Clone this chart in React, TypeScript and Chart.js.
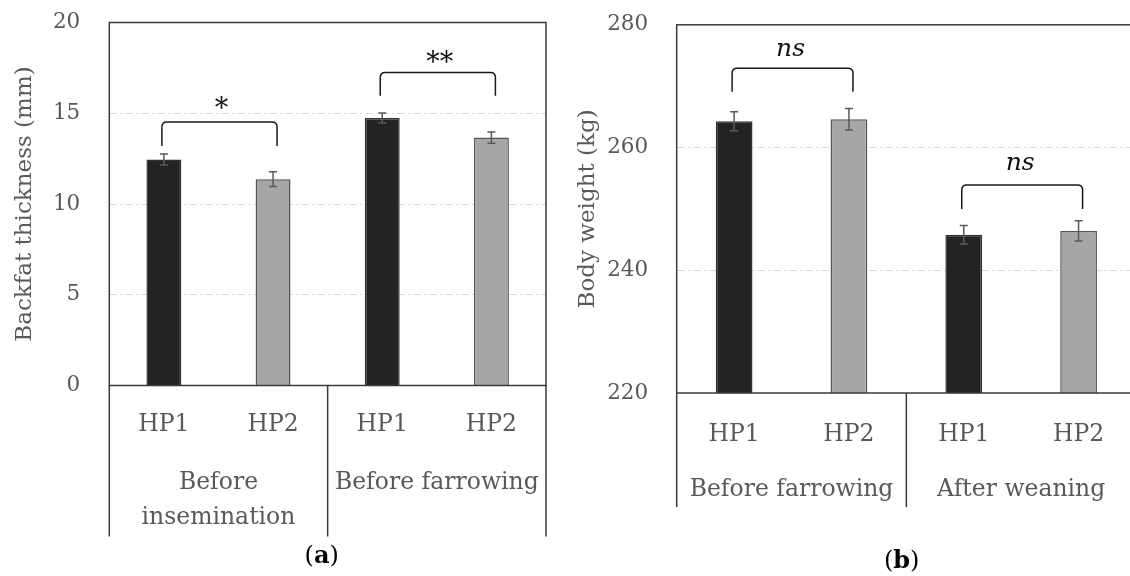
import React, { useEffect, useRef } from 'react';
import { Chart, registerables } from 'chart.js';

Chart.register(...registerables);

const FONT = "'DejaVu Serif', serif";
const TEXT = '#595959';

// ---------- Panel (a): backfat thickness ----------
const backfatCategories = ['HP1', 'HP2', 'HP1', 'HP2'];
const backfatGroups = ['Before\ninsemination', 'Before farrowing'];
const backfatMeans = [12.45, 11.37, 14.74, 13.66];
const backfatErrors = [0.3, 0.4, 0.28, 0.31];
const backfatTicks = [0, 5, 10, 15, 20];
const backfatPairs = [[0, 1], [2, 3]];
const backfatBracketTop = [14.52, 17.25];
const backfatBracketLeg = [13.19, 15.97];
const backfatSig = ['*', '**'];
const backfatSigY = [15.57, 18.1];

// ---------- Panel (b): body weight ----------
const weightCategories = ['HP1', 'HP2', 'HP1', 'HP2'];
const weightGroups = ['Before farrowing', 'After weaning'];
const weightMeans = [264.3, 264.6, 245.8, 246.4];
const weightErrors = [1.55, 1.75, 1.5, 1.65];
const weightTicks = [220, 240, 260, 280];
const weightPairs = [[0, 1], [2, 3]];
const weightBracketTop = [272.9, 253.9];
const weightBracketLeg = [269.1, 250.0];
const weightSig = ['ns', 'ns'];
const weightSigY = [275.9, 257.4];

type Panel = {
  left: number;
  width: number;
  padTop: number;
  padRight: number;
  yWidth: number;
  xHeight: number;
  tickPad: number;
  titlePad: number;
  catPad: number;
  groupOffset: number;
  groupLineGap: number;
  sepDepth: number;
  captionX: number;
  captionY: number;
  caption: string;
  title: string;
  categories: string[];
  groups: string[];
  means: number[];
  errors: number[];
  ticks: number[];
  pairs: number[][];
  bracketTop: number[];
  bracketLeg: number[];
  sig: string[];
  sigY: number[];
  sigItalic: boolean;
};

const panels: Panel[] = [
  {
    left: 0,
    width: 565,
    padTop: 22.5,
    padRight: 19,
    yWidth: 109.3,
    xHeight: 190.5,
    tickPad: 29,
    titlePad: 11,
    catPad: 25,
    groupOffset: 97,
    groupLineGap: 35,
    sepDepth: 151,
    captionX: 321.7,
    captionY: 557,
    caption: 'a',
    title: 'Backfat thickness (mm)',
    categories: backfatCategories,
    groups: backfatGroups,
    means: backfatMeans,
    errors: backfatErrors,
    ticks: backfatTicks,
    pairs: backfatPairs,
    bracketTop: backfatBracketTop,
    bracketLeg: backfatBracketLeg,
    sig: backfatSig,
    sigY: backfatSigY,
    sigItalic: false,
  },
  {
    left: 565,
    width: 580,
    padTop: 24.8,
    padRight: 9,
    yWidth: 111.7,
    xHeight: 183,
    tickPad: 28.5,
    titlePad: 9.5,
    catPad: 27.5,
    groupOffset: 97,
    groupLineGap: 35,
    sepDepth: 114,
    captionX: 901.7 - 565,
    captionY: 562,
    caption: 'b',
    title: 'Body weight (kg)',
    categories: weightCategories,
    groups: weightGroups,
    means: weightMeans,
    errors: weightErrors,
    ticks: weightTicks,
    pairs: weightPairs,
    bracketTop: weightBracketTop,
    bracketLeg: weightBracketLeg,
    sig: weightSig,
    sigY: weightSigY,
    sigItalic: true,
  },
];

function makeDecor(p: Panel) {
  return {
    id: 'decor' + p.caption,
    afterDatasetsDraw(chart: any) {
      const ctx = chart.ctx;
      const y = chart.scales.y;
      const meta = chart.getDatasetMeta(0);
      ctx.save();
      ctx.strokeStyle = '#5a5a5a';
      ctx.lineWidth = 1.5;
      meta.data.forEach((bar: any, i: number) => {
        const x = bar.x;
        const yHi = y.getPixelForValue(p.means[i] + p.errors[i]);
        const yLo = y.getPixelForValue(p.means[i] - p.errors[i]);
        const cap = 4;
        ctx.beginPath();
        ctx.moveTo(x, yHi);
        ctx.lineTo(x, yLo);
        ctx.moveTo(x - cap, yHi);
        ctx.lineTo(x + cap, yHi);
        ctx.moveTo(x - cap, yLo);
        ctx.lineTo(x + cap, yLo);
        ctx.stroke();
      });
      ctx.restore();
    },
    afterDraw(chart: any) {
      const ctx = chart.ctx;
      const area = chart.chartArea;
      const xs = chart.scales.x;
      const ys = chart.scales.y;
      ctx.save();
      // frame
      ctx.strokeStyle = '#3a3a3a';
      ctx.lineWidth = 1.5;
      ctx.strokeRect(area.left, area.top, area.right - area.left, area.bottom - area.top);
      // group separators
      const step = xs.getPixelForValue(1) - xs.getPixelForValue(0);
      const edges = [
        xs.getPixelForValue(0) - step / 2,
        xs.getPixelForValue(1) + step / 2,
        xs.getPixelForValue(3) + step / 2,
      ];
      ctx.beginPath();
      edges.forEach((ex) => {
        ctx.moveTo(ex, area.bottom);
        ctx.lineTo(ex, area.bottom + p.sepDepth);
      });
      ctx.stroke();
      // group labels
      ctx.fillStyle = TEXT;
      ctx.font = `23.5px ${FONT}`;
      ctx.textAlign = 'center';
      ctx.textBaseline = 'middle';
      p.groups.forEach((g, gi) => {
        const cx = (xs.getPixelForValue(gi * 2) + xs.getPixelForValue(gi * 2 + 1)) / 2;
        g.split('\n').forEach((line, li) => {
          ctx.fillText(line, cx, area.bottom + p.groupOffset + li * p.groupLineGap);
        });
      });
      // brackets
      ctx.strokeStyle = '#1a1a1a';
      ctx.lineWidth = 1.5;
      p.pairs.forEach((pair, k) => {
        const x1 = xs.getPixelForValue(pair[0]) - 2;
        const x2 = xs.getPixelForValue(pair[1]) + 4;
        const top = ys.getPixelForValue(p.bracketTop[k]);
        const leg = ys.getPixelForValue(p.bracketLeg[k]);
        const r = 5;
        ctx.beginPath();
        ctx.moveTo(x1, leg);
        ctx.lineTo(x1, top + r);
        ctx.quadraticCurveTo(x1, top, x1 + r, top);
        ctx.lineTo(x2 - r, top);
        ctx.quadraticCurveTo(x2, top, x2, top + r);
        ctx.lineTo(x2, leg);
        ctx.stroke();
        // significance label
        ctx.fillStyle = '#111111';
        ctx.font = p.sigItalic ? `italic 25px ${FONT}` : `27px ${FONT}`;
        ctx.textAlign = 'center';
        ctx.textBaseline = 'alphabetic';
        const txt = p.sig[k];
        const m = ctx.measureText(txt);
        const cy = ys.getPixelForValue(p.sigY[k]);
        const base = cy + (m.actualBoundingBoxAscent - m.actualBoundingBoxDescent) / 2;
        ctx.fillText(txt, (x1 + x2) / 2 + (p.sigItalic ? -2 : 2), base);
      });
      // caption (a)/(b)
      ctx.fillStyle = '#000000';
      ctx.textBaseline = 'middle';
      ctx.textAlign = 'left';
      const reg = `24px ${FONT}`;
      const bold = `bold 24px ${FONT}`;
      ctx.font = reg;
      const wOpen = ctx.measureText('(').width;
      const wClose = ctx.measureText(')').width;
      ctx.font = bold;
      const wMid = ctx.measureText(p.caption).width;
      let cx = p.captionX - (wOpen + wMid + wClose) / 2;
      ctx.font = reg;
      ctx.fillText('(', cx, p.captionY);
      cx += wOpen;
      ctx.font = bold;
      ctx.fillText(p.caption, cx, p.captionY);
      cx += wMid;
      ctx.font = reg;
      ctx.fillText(')', cx, p.captionY);
      ctx.restore();
    },
  };
}

function PanelChart({ p }: { p: Panel }) {
  const ref = useRef<HTMLCanvasElement | null>(null);
  useEffect(() => {
    if (!ref.current) return;
    const min = p.ticks[0];
    const max = p.ticks[p.ticks.length - 1];
    const chart = new Chart(ref.current, {
      type: 'bar',
      data: {
        labels: p.categories,
        datasets: [
          {
            data: p.means,
            backgroundColor: p.categories.map((c) => (c === 'HP1' ? '#232323' : '#a6a6a6')),
            borderColor: p.categories.map((c) => (c === 'HP1' ? '#333333' : '#555555')),
            borderWidth: 1.5,
            barPercentage: 0.32,
            categoryPercentage: 1,
          },
        ],
      },
      options: {
        responsive: false,
        animation: false,
        layout: { padding: { top: p.padTop, right: p.padRight, left: 0, bottom: 0 } },
        plugins: {
          legend: { display: false },
          tooltip: { enabled: false },
          title: { display: false },
        },
        scales: {
          x: {
            grid: { display: false, drawTicks: false },
            border: { display: false },
            ticks: {
              color: TEXT,
              font: { family: FONT, size: 23.5 },
              padding: p.catPad,
              maxRotation: 0,
              autoSkip: false,
            },
            afterFit: (s: any) => {
              s.height = p.xHeight;
              s.paddingLeft = 0;
              s.paddingRight = 0;
            },
          },
          y: {
            min,
            max,
            afterBuildTicks: (s: any) => {
              s.ticks = p.ticks.map((v) => ({ value: v }));
            },
            ticks: {
              color: TEXT,
              font: { family: FONT, size: 21.5 },
              padding: p.tickPad,
            },
            grid: {
              drawTicks: false,
              lineWidth: 1,
              color: (c: any) =>
                c.tick && (c.tick.value === min || c.tick.value === max) ? 'rgba(0,0,0,0)' : '#d9d9d9',
            },
            border: { display: false, dash: [8, 3, 2, 3] },
            title: {
              display: true,
              text: p.title,
              color: TEXT,
              font: { family: FONT, size: 23 },
              padding: { top: p.titlePad, bottom: 0 },
            },
            afterFit: (s: any) => {
              s.width = p.yWidth;
              s.paddingTop = 0;
              s.paddingBottom = 0;
            },
          },
        },
      },
      plugins: [makeDecor(p)],
    } as any);
    return () => chart.destroy();
  }, [p]);
  return (
    <canvas
      ref={ref}
      width={p.width}
      height={576}
      style={{ position: 'absolute', left: p.left, top: 0, width: p.width, height: 576 }}
    />
  );
}

export default function App() {
  return (
    <div
      style={{
        position: 'absolute',
        left: 0,
        top: 0,
        width: 1130,
        height: 576,
        overflow: 'hidden',
        background: '#ffffff',
      }}
    >
      {panels.map((p) => (
        <PanelChart key={p.caption} p={p} />
      ))}
    </div>
  );
}
